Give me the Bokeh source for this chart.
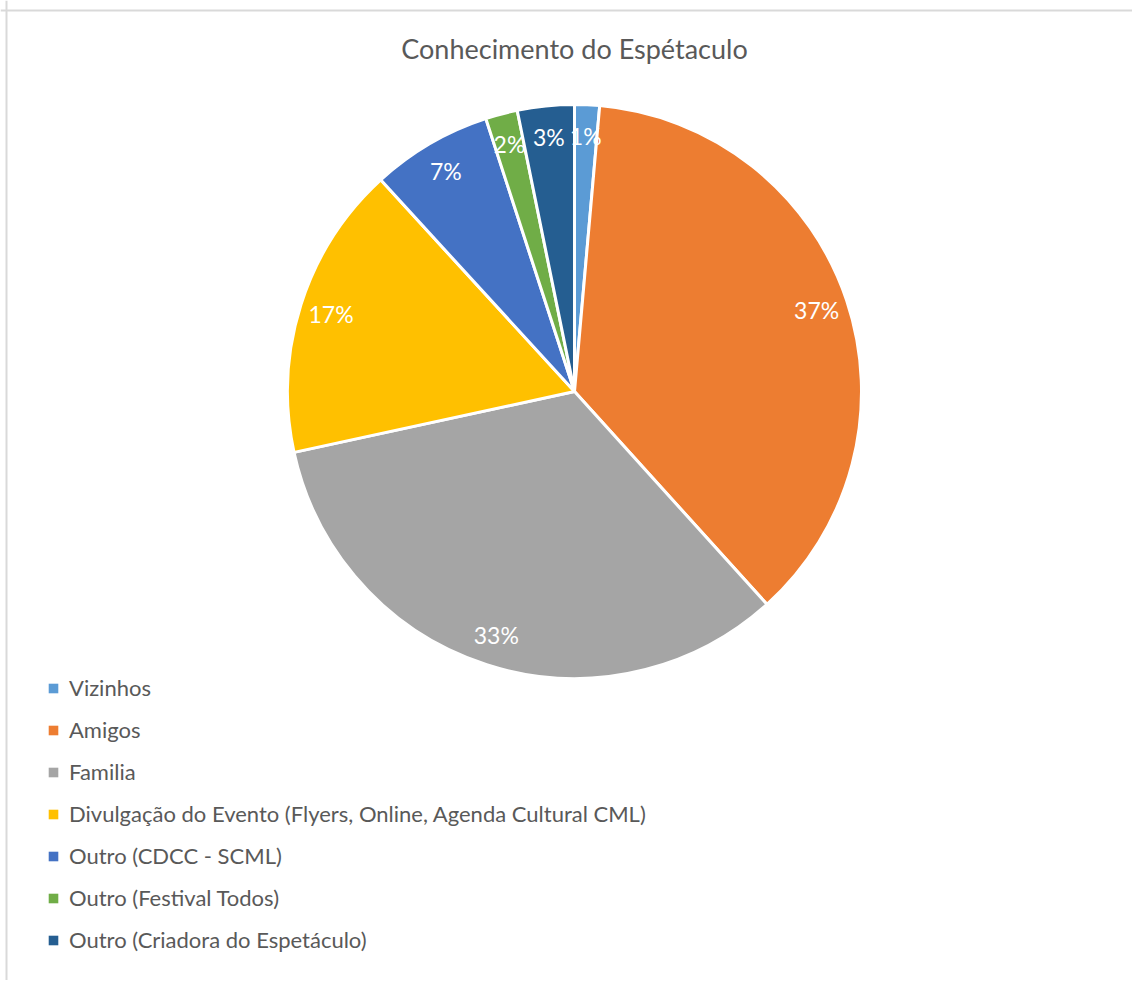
import numpy as np
from bokeh.plotting import figure
from bokeh.models import Range1d, Legend, LegendItem, ColumnDataSource, Span
from bokeh.core.properties import value
from bokeh.embed import file_html
from bokeh.resources import INLINE

# ---- data ----
categories = [
    "Vizinhos",
    "Amigos",
    "Familia",
    "Divulgação do Evento (Flyers, Online, Agenda Cultural CML)",
    "Outro (CDCC - SCML)",
    "Outro (Festival Todos)",
    "Outro (Criadora do Espetáculo)",
]
shares = [1.4, 36.9, 33.3, 16.6, 6.8, 1.8, 3.2]
colors = ["#5B9BD5", "#ED7D31", "#A5A5A5", "#FFC000", "#4472C4", "#70AD47", "#255E91"]
title_text = "Conhecimento do Espétaculo"

# ---- geometry ----
W, H = 1132, 980
FONT = "Lato"
cx, cy, R = 574, -391, 287

vals = np.array(shares, dtype=float)
frac = vals / vals.sum()
cum = np.concatenate([[0.0], np.cumsum(frac)])
start = np.pi / 2 - 2 * np.pi * cum[:-1]
end = np.pi / 2 - 2 * np.pi * cum[1:]
mid = (start + end) / 2
lr = 0.89 * R
labels = [f"{round(v / vals.sum() * 100):.0f}%" for v in vals]

src = ColumnDataSource(dict(
    x=[cx] * len(vals), y=[cy] * len(vals),
    start=start, end=end, color=colors, cat=categories,
    lx=cx + lr * np.cos(mid), ly=cy + lr * np.sin(mid), lab=labels,
    z=[0.0] * len(vals),
))

p = figure(width=W, height=H, output_backend="svg", toolbar_location=None,
           x_range=Range1d(0, W), y_range=Range1d(-H, 0),
           min_border=0, outline_line_color=None)
p.axis.visible = False
p.grid.visible = False
p.background_fill_color = "white"
p.border_fill_color = "white"

wr = p.wedge(x="x", y="y", radius=R, start_angle="start", end_angle="end",
             direction="clock", fill_color="color", line_color="white",
             line_width=3, source=src)

# zero-area quads used only as legend swatches
qr = p.quad(left="z", right="z", top="z", bottom="z", fill_color="color",
            line_color=None, source=src)

p.text(x="lx", y="ly", text="lab", source=src, text_color="white",
       text_font=value(FONT), text_font_size="23px",
       text_align="center", text_baseline="middle")

p.text(x=[574], y=[-48], text=[title_text], text_color="#595959",
       text_font=value(FONT), text_font_size="27px",
       text_align="center", text_baseline="middle")

# chart border (top & left visible)
p.add_layout(Span(location=-10, dimension="width", line_color="#D9D9D9", line_width=2))
p.add_layout(Span(location=6, dimension="height", line_color="#D9D9D9", line_width=2))

items = [LegendItem(label=c, renderers=[qr], index=i) for i, c in enumerate(categories)]
legend = Legend(items=items, location=(47, 27), orientation="vertical",
                glyph_width=12, glyph_height=12, label_height=20,
                spacing=15, label_standoff=10, padding=0, margin=0,
                border_line_color=None, background_fill_alpha=0,
                label_text_font=FONT, label_text_font_size="22px",
                label_text_color="#595959")
p.add_layout(legend)

open("out.html", "w").write(file_html(p, INLINE))
